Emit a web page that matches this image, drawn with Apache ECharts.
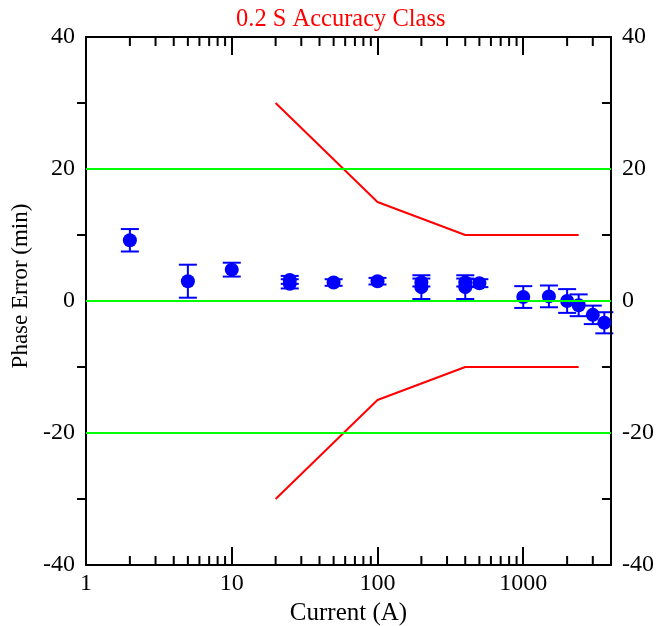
<!DOCTYPE html>
<html>
<head>
<meta charset="utf-8">
<script src="https://cdn.jsdelivr.net/npm/echarts@6/dist/echarts.min.js"></script>
<style>html,body{margin:0;padding:0;background:#fff}#c{width:660px;height:626px}</style>
</head>
<body>
<div id="c"></div>
<script>
// Measured data (current in A, phase error in min, +/- uncertainty)
var currents = [2, 5, 10, 25, 25, 50, 100, 200, 200, 400, 400, 500, 1000, 1500, 2000, 2400, 3000, 3600];
var phaseErrors = [9.2, 3.0, 4.75, 3.2, 2.6, 2.8, 3.0, 2.8, 2.1, 2.8, 2.1, 2.7, 0.6, 0.7, 0.0, -0.65, -2.1, -3.3];
var uncertainties = [1.7, 2.5, 1.05, 0.6, 0.7, 0.5, 0.5, 0.6, 1.8, 0.6, 1.8, 0.6, 1.65, 1.65, 1.8, 1.65, 1.4, 1.6];
// Accuracy class limits
var limitCurrents = [20, 100, 400, 2400];
var upperLimit = [30, 15, 10, 10];
var lowerLimit = [-30, -15, -10, -10];
// Axis tick values
var xMajorTicks = [1, 10, 100, 1000];
var xMinorTicks = [2,3,4,5,6,7,8,9,20,30,40,50,60,70,80,90,200,300,400,500,600,700,800,900,2000,3000];
var yTicks = [-40, -20, 0, 20, 40];
var greenLines = [-20, 0, 20];

var FONT = '"Liberation Serif", "Times New Roman", serif';

var chart = echarts.init(document.getElementById('c'));

function pairs(xs, ys) { return xs.map(function (x, i) { return [x, ys[i]]; }); }

var errData = currents.map(function (c, i) {
  return [c, phaseErrors[i] - uncertainties[i], phaseErrors[i] + uncertainties[i]];
});

var lblStyle = { fontFamily: FONT, fontSize: 24, color: '#000' };

var option = {
  animation: false,
  title: {
    text: '0.2 S Accuracy Class',
    left: 231, top: 2,
    textStyle: { fontFamily: FONT, fontSize: 24.5, fontWeight: 'normal', color: '#ff0000' }
  },
  grid: { left: 86, right: 49, top: 37, bottom: 61, containLabel: false, outerBoundsMode: 'none' },
  xAxis: [
    {
      type: 'log', logBase: 10, min: 1, max: 4000, position: 'bottom', z: 3,
      name: 'Current (A)', nameLocation: 'middle', nameGap: 30,
      nameTextStyle: { fontFamily: FONT, fontSize: 25, color: '#000' },
      axisLine: { onZero: false, lineStyle: { color: '#000', width: 2 } },
      axisTick: { inside: true, length: 18, lineStyle: { color: '#000', width: 2 } },
      axisLabel: Object.assign({ margin: 7, formatter: function (v) {
        return xMajorTicks.indexOf(Math.round(v)) >= 0 ? String(Math.round(v)) : '';
      } }, lblStyle),
      splitLine: { show: false }, minorTick: { show: false }
    },
    {
      type: 'log', logBase: 10, min: 1, max: 4000, position: 'top', z: 3,
      axisLine: { onZero: false, lineStyle: { color: '#000', width: 2 } },
      axisTick: { inside: true, length: 18, lineStyle: { color: '#000', width: 2 } },
      axisLabel: { show: false },
      splitLine: { show: false }
    }
  ],
  yAxis: [
    {
      type: 'value', min: -40, max: 40, interval: 20, position: 'left', z: 0,
      name: 'Phase Error (min)', nameLocation: 'middle', nameGap: 54,
      nameTextStyle: { fontFamily: FONT, fontSize: 23, color: '#000', padding: [0, 0, 0, 30] },
      axisLine: { onZero: false, lineStyle: { color: '#000', width: 2 } },
      axisTick: { show: false },
      minorTick: { show: true, splitNumber: 2, length: 9, lineStyle: { color: '#000', width: 2 } },
      axisLabel: Object.assign({ margin: 11 }, lblStyle),
      splitLine: { show: false }
    },
    {
      type: 'value', min: -40, max: 40, interval: 20, position: 'right', z: 3,
      axisLine: { onZero: false, lineStyle: { color: '#000', width: 2 } },
      axisTick: { inside: true, length: 16, lineStyle: { color: '#000', width: 2 } },
      minorTick: { show: true, splitNumber: 2, length: 9, lineStyle: { color: '#000', width: 2 } },
      axisLabel: Object.assign({ margin: 11 }, lblStyle),
      splitLine: { show: false }
    }
  ],
  series: [
    {
      type: 'line', name: 'grid', data: [], z: 1, silent: true,
      markLine: {
        silent: true, symbol: ['none', 'none'], label: { show: false }, animation: false,
        lineStyle: { color: '#00ff00', width: 2, type: 'solid' },
        emphasis: { disabled: true },
        data: greenLines.map(function (v) { return { yAxis: v }; })
      }
    },
    {
      type: 'custom', name: 'minorTicks', xAxisIndex: 0, yAxisIndex: 0, z: 4, silent: true,
      data: xMinorTicks.map(function (v) { return [v]; }),
      encode: { x: 0 },
      renderItem: function (params, api) {
        var v = api.value(0);
        var b = api.coord([v, -40]);
        var t = api.coord([v, 40]);
        var st = { stroke: '#000', lineWidth: 2 };
        return { type: 'group', children: [
          { type: 'line', shape: { x1: b[0], y1: b[1], x2: b[0], y2: b[1] - 9 }, style: st },
          { type: 'line', shape: { x1: t[0], y1: t[1], x2: t[0], y2: t[1] + 9 }, style: st }
        ] };
      }
    },
    {
      type: 'line', name: 'upper', data: pairs(limitCurrents, upperLimit), showSymbol: false, symbol: 'none',
      lineStyle: { color: '#ff0000', width: 2 }, z: 2
    },
    {
      type: 'line', name: 'lower', data: pairs(limitCurrents, lowerLimit), showSymbol: false, symbol: 'none',
      lineStyle: { color: '#ff0000', width: 2 }, z: 2
    },
    {
      type: 'custom', name: 'errorbars', z: 3, clip: false,
      data: errData,
      encode: { x: 0, y: [1, 2] },
      renderItem: function (params, api) {
        var x = api.value(0);
        var lo = api.coord([x, api.value(1)]);
        var hi = api.coord([x, api.value(2)]);
        var hw = 9;
        var st = { stroke: '#0000ff', lineWidth: 2 };
        return { type: 'group', children: [
          { type: 'line', shape: { x1: lo[0], y1: lo[1], x2: hi[0], y2: hi[1] }, style: st },
          { type: 'line', shape: { x1: lo[0] - hw, y1: lo[1], x2: lo[0] + hw, y2: lo[1] }, style: st },
          { type: 'line', shape: { x1: hi[0] - hw, y1: hi[1], x2: hi[0] + hw, y2: hi[1] }, style: st }
        ] };
      }
    },
    {
      type: 'scatter', name: 'measured', data: pairs(currents, phaseErrors), symbol: 'circle', symbolSize: 14,
      itemStyle: { color: '#0000ff', opacity: 1 }, z: 4, clip: false
    }
  ]
};
chart.setOption(option);
</script>
</body>
</html>
